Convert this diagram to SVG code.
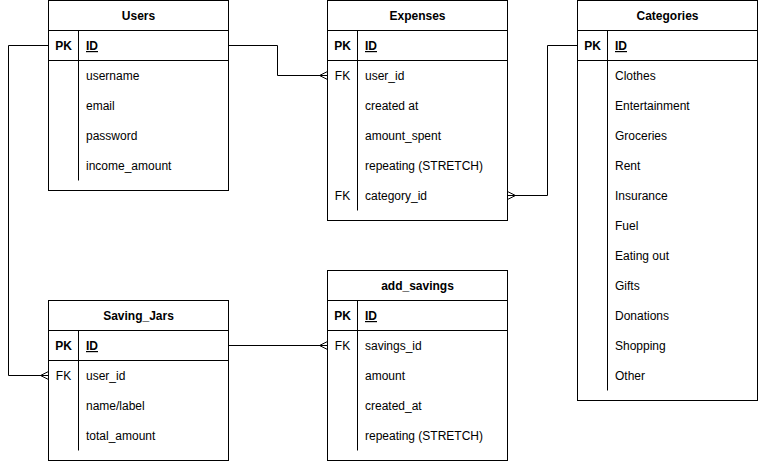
<svg xmlns="http://www.w3.org/2000/svg" width="758" height="461" viewBox="0 0 758 461">
<defs>
<style>
.box{fill:#fff;stroke:#000;stroke-width:1}
.ln{stroke:#000;stroke-width:1;fill:none}
text{font-family:"Liberation Sans",Arial,Helvetica,sans-serif;font-size:12px;fill:#000}
.h{font-weight:bold;text-anchor:middle}
.k{font-weight:bold;text-anchor:middle}
.fk{text-anchor:middle}
.id{font-weight:bold;text-decoration:underline}
.edge{stroke:#000;stroke-width:1;fill:none}
</style>
<marker id="many" viewBox="0 0 10 10" markerWidth="10" markerHeight="10" refX="10" refY="5" orient="auto-start-reverse" markerUnits="userSpaceOnUse">
<path d="M2 5 L10 1 M2 5 L10 9" fill="none" stroke="#000" stroke-width="1"/>
</marker>
</defs>

<g id="connectors">
<path class="edge" d="M228.5 45.5 H277.5 V75.5 H327.5" marker-end="url(#many)"/>
<path class="edge" d="M48.5 45.5 H8.5 V375.5 H48.5" marker-end="url(#many)"/>
<path class="edge" d="M507.5 195.5 H547.5 V45.5 H577.5" marker-start="url(#many)"/>
<path class="edge" d="M228.5 345.5 H327.5" marker-end="url(#many)"/>
</g>

<g id="users">
<rect class="box" x="48.5" y="0.5" width="180" height="190"/>
<path class="ln" d="M48.5 30.5 H228.5 M48.5 60.5 H228.5 M78.5 30.5 V180.5"/>
<text class="h" x="138.5" y="20">Users</text>
<text class="k" x="63.5" y="50">PK</text>
<text class="id" x="86" y="50">ID</text>
<text x="86" y="80">username</text>
<text x="86" y="110">email</text>
<text x="86" y="140">password</text>
<text x="86" y="170">income_amount</text>
</g>

<g id="expenses">
<rect class="box" x="327.5" y="0.5" width="180" height="220"/>
<path class="ln" d="M327.5 30.5 H507.5 M327.5 60.5 H507.5 M357.5 30.5 V210.5"/>
<text class="h" x="417.5" y="20">Expenses</text>
<text class="k" x="342.5" y="50">PK</text>
<text class="id" x="365" y="50">ID</text>
<text class="fk" x="342.5" y="80">FK</text>
<text x="365" y="80">user_id</text>
<text x="365" y="110">created at</text>
<text x="365" y="140">amount_spent</text>
<text x="365" y="170">repeating (STRETCH)</text>
<text class="fk" x="342.5" y="200">FK</text>
<text x="365" y="200">category_id</text>
</g>

<g id="categories">
<rect class="box" x="577.5" y="0.5" width="180" height="400"/>
<path class="ln" d="M577.5 30.5 H757.5 M577.5 60.5 H757.5 M607.5 30.5 V390.5"/>
<text class="h" x="667.5" y="20">Categories</text>
<text class="k" x="592.5" y="50">PK</text>
<text class="id" x="615" y="50">ID</text>
<text x="615" y="80">Clothes</text>
<text x="615" y="110">Entertainment</text>
<text x="615" y="140">Groceries</text>
<text x="615" y="170">Rent</text>
<text x="615" y="200">Insurance</text>
<text x="615" y="230">Fuel</text>
<text x="615" y="260">Eating out</text>
<text x="615" y="290">Gifts</text>
<text x="615" y="320">Donations</text>
<text x="615" y="350">Shopping</text>
<text x="615" y="380">Other</text>
</g>

<g id="saving_jars">
<rect class="box" x="48.5" y="300.5" width="180" height="160"/>
<path class="ln" d="M48.5 330.5 H228.5 M48.5 360.5 H228.5 M78.5 330.5 V450.5"/>
<text class="h" x="138.5" y="320">Saving_Jars</text>
<text class="k" x="63.5" y="350">PK</text>
<text class="id" x="86" y="350">ID</text>
<text class="fk" x="63.5" y="380">FK</text>
<text x="86" y="380">user_id</text>
<text x="86" y="410">name/label</text>
<text x="86" y="440">total_amount</text>
</g>

<g id="add_savings">
<rect class="box" x="327.5" y="270.5" width="180" height="190"/>
<path class="ln" d="M327.5 300.5 H507.5 M327.5 330.5 H507.5 M357.5 300.5 V450.5"/>
<text class="h" x="417.5" y="290">add_savings</text>
<text class="k" x="342.5" y="320">PK</text>
<text class="id" x="365" y="320">ID</text>
<text class="fk" x="342.5" y="350">FK</text>
<text x="365" y="350">savings_id</text>
<text x="365" y="380">amount</text>
<text x="365" y="410">created_at</text>
<text x="365" y="440">repeating (STRETCH)</text>
</g>
</svg>
